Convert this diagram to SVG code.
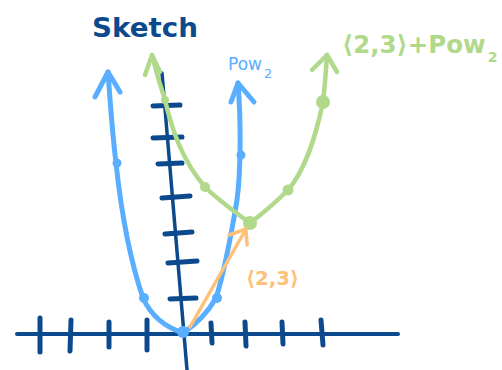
<svg xmlns="http://www.w3.org/2000/svg" width="502" height="370" viewBox="0 0 502 370">
<style>
.ax{stroke:#0d4a8d;fill:none;stroke-linecap:round;stroke-linejoin:round}
.blue{stroke:#5aaeff;fill:none;stroke-width:5;stroke-linecap:round;stroke-linejoin:round}
.green{stroke:#b1d98b;fill:none;stroke-width:4.5;stroke-linecap:round;stroke-linejoin:round}
.orange{stroke:#ffc078;fill:none;stroke-width:3.5;stroke-linecap:round;stroke-linejoin:round}
.t{font-family:"DejaVu Sans","Liberation Sans",sans-serif}
</style>
<rect width="502" height="370" fill="#ffffff"/>
<g id="title"><text class="t" x="92" y="37" font-size="27" font-weight="bold" fill="#0d4a8d" textLength="106" lengthAdjust="spacingAndGlyphs">Sketch</text></g>
<g id="axes">
<path class="ax" stroke-width="4" d="M17,334 L398,334"/>
<path class="ax" stroke-width="3.5" d="M162,73 L187,370"/>
<path class="ax" stroke-width="5" d="M40,318 L40,352 M71,320 L70,351 M109,322 L109,347 M147,320 L147,350 M211,323 L212,343 M245,322 L246,346 M282,322 L283,344 M321,320 L323,345"/>
<path class="ax" stroke-width="5" d="M153,106 L180,105 M153,138 L182,137 M158,164 L182,163 M162,198 L190,196 M165,234 L192,232 M168,263 L197,261 M170,299 L196,298"/>
</g>
<g id="connectors">
<g id="pow2-curve">
<path class="blue" d="M108,72 C110,100 112,130 116,163 C121,210 130,260 143,298 C152,318 168,328 183,333 C195,325 208,312 216,298 C225,270 232,230 237,200 C241,170 241,120 238,83"/>
<path class="blue" d="M95,97 L108,72 L120,92 M231,102 L238,83 L254,102"/>
<circle cx="117" cy="163" r="4.5" fill="#5aaeff"/>
<circle cx="144" cy="298" r="5" fill="#5aaeff"/>
<circle cx="217" cy="298" r="5" fill="#5aaeff"/>
<circle cx="241" cy="155" r="4.5" fill="#5aaeff"/>
<circle cx="183" cy="332" r="6" fill="#5aaeff"/>
</g>
<g id="shifted-curve">
<path class="green" d="M152,55 C157,75 161,88 165,100 C172,130 182,160 205,187 C218,200 235,212 250,223 C262,214 275,203 288,190 C305,170 315,140 323,102 C325,85 326,70 327,55"/>
<path class="green" d="M145,75 L152,55 L160,72 M312,70 L327,55 L337,72"/>
<circle cx="165" cy="100" r="4" fill="#b1d98b"/>
<circle cx="205" cy="187" r="5" fill="#b1d98b"/>
<circle cx="288" cy="190" r="5.5" fill="#b1d98b"/>
<circle cx="323" cy="102" r="7" fill="#b1d98b"/>
<circle cx="250" cy="223" r="7" fill="#b1d98b"/>
</g>
<g id="vector">
<path class="orange" d="M190,327 L246,229"/>
<path class="orange" d="M229,235 L246,229 L247,245"/>
</g>
</g>
<g id="label-pow2"><text class="t" x="228" y="70" font-size="17" fill="#5aaeff">Pow<tspan font-size="13" dx="2" dy="8">2</tspan></text></g>
<g id="label-shift"><text class="t" x="342" y="53" font-size="24.5" font-weight="bold" fill="#b1d98b">⟨2,3⟩+Pow<tspan font-size="14" dx="2" dy="9">2</tspan></text></g>
<g id="label-vector"><text class="t" x="246" y="285" font-size="20" font-weight="bold" fill="#ffc078" textLength="53" lengthAdjust="spacingAndGlyphs">⟨2,3⟩</text></g>
</svg>
